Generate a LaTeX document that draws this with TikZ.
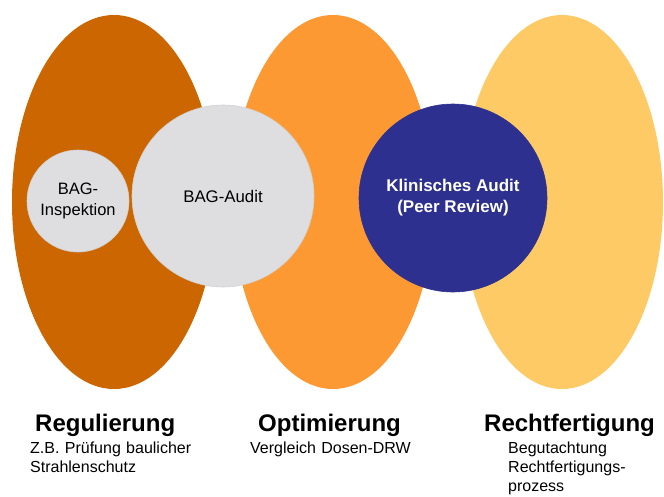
\documentclass[tikz,border=0pt]{standalone}
\usepackage{fontspec}
\setmainfont{Liberation Sans}
\usetikzlibrary{positioning}
\definecolor{Regul}{RGB}{204,102,0}
\definecolor{Optim}{RGB}{253,153,51}
\definecolor{Recht}{RGB}{254,202,102}
\definecolor{AuditGray}{RGB}{222,222,225}
\definecolor{PeerBlue}{RGB}{45,48,142}

\begin{document}
\begin{tikzpicture}[x=1pt,y=-1pt,
  disc/.style={circle,inner sep=0pt,align=center,draw=black!18,line width=0.6pt},
  title/.style={anchor=base west,inner sep=0pt,font=\fontsize{24}{28}\selectfont\bfseries},
  sub/.style={anchor=base west,inner sep=0pt,align=left,text width=190pt,font=\fontsize{16}{19.3}\selectfont}]
\useasboundingbox (0,0) rectangle (664,496);

%
\fill[Regul](114,202) ellipse [x radius=102, y radius=187];
\fill[Optim](333,202) ellipse [x radius=101, y radius=187];
\fill[Recht](562,202) ellipse [x radius=101, y radius=187];

%
\node[disc,fill=AuditGray,minimum size=102pt,font=\fontsize{16.5}{21}\selectfont] (insp) at (78,201) {BAG-\\Inspektion};
\node[disc,fill=AuditGray,minimum size=182pt,font=\fontsize{16.8}{21}\selectfont] (bagaudit) at (223,196) {BAG-Audit};
\node[disc,fill=PeerBlue,draw=PeerBlue,text=white,minimum size=188pt,font=\fontsize{17}{21}\selectfont\bfseries] (klin) at (453,198) {Klinisches Audit\\(Peer Review)};

% 
\node[title] (regtitle) at (35,431) {Regulierung};
\node[sub] (regsub) at (30,453) {Z.B. Prüfung baulicher\\Strahlenschutz};
\node[title] (opttitle) at (258,431) {Optimierung};
\node[sub] (optsub) at (250,453) {Vergleich Dosen-DRW};
\node[title] (rectitle) at (484,431) {Rechtfertigung};
\node[sub] (recsub) at (508,453) {Begutachtung\\Rechtfertigungs-\\prozess};
\end{tikzpicture}
\end{document}
